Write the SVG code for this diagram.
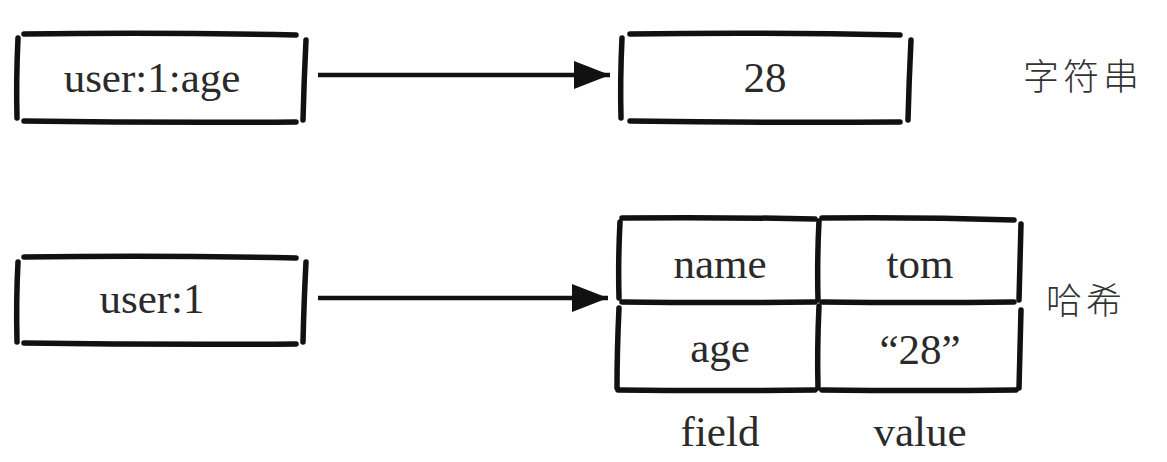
<svg xmlns="http://www.w3.org/2000/svg" width="1167" height="462" viewBox="0 0 1167 462">
<style>
.s{fill:none;stroke:#111;stroke-width:5.5;stroke-linecap:round;stroke-linejoin:round}
.c{stroke:#111;stroke-width:4.5;fill:none}
.t{font-family:"Liberation Serif","Times New Roman",serif;font-size:43px;fill:#2a2a2a;text-anchor:middle}
.z{font-family:"Noto Sans CJK SC","Noto Sans CJK JP",sans-serif;font-size:36px;font-weight:300;fill:#333;letter-spacing:4px}
</style>
<defs>
<marker id="arr" viewBox="0 0 36 28" refX="36" refY="14" markerWidth="36" markerHeight="28" markerUnits="userSpaceOnUse" orient="auto">
<path d="M0,0 L36,14 L0,28 Z" fill="#111"/>
</marker>
</defs>
<rect width="1167" height="462" fill="#fff"/>
<g id="connectors">
<line class="c" x1="318" y1="75" x2="610" y2="75" marker-end="url(#arr)"/>
<line class="c" x1="318" y1="298" x2="608" y2="298" marker-end="url(#arr)"/>
</g>
<g id="key-age">
<path class="s" d="M24,34 Q160,32 296,35"/>
<path class="s" d="M24,121 Q160,123 296,122"/>
<path class="s" d="M18,38 Q16,80 17,118"/>
<path class="s" d="M306,40 Q304,80 303,120"/>
<text class="t" x="152" y="92">user:1:age</text>
</g>
<g id="val-28">
<path class="s" d="M630,34 Q765,32 900,35"/>
<path class="s" d="M630,121 Q765,123 900,122"/>
<path class="s" d="M622,38 Q620,80 621,118"/>
<path class="s" d="M911,40 Q909,80 908,120"/>
<text class="t" x="765" y="92">28</text>
</g>
<g id="label-string"><text class="z" x="1023" y="90">字符串</text></g>
<g id="key-user1">
<path class="s" d="M24,257 Q160,255 296,258"/>
<path class="s" d="M24,343 Q160,345 296,344"/>
<path class="s" d="M18,262 Q16,300 17,342"/>
<path class="s" d="M306,262 Q304,300 303,342"/>
<text class="t" x="152" y="313">user:1</text>
</g>
<g id="hash">
<path class="s" d="M622,218 Q720,217 815,219"/>
<path class="s" d="M822,218 Q920,217 1014,220"/>
<path class="s" d="M622,302 Q720,303 815,302"/>
<path class="s" d="M822,302 Q920,303 1014,302"/>
<path class="s" d="M618,390 Q720,391 815,390"/>
<path class="s" d="M822,390 Q920,391 1016,390"/>
<path class="s" d="M620,222 Q618,260 619,298"/>
<path class="s" d="M619,308 Q617,350 617,388"/>
<path class="s" d="M819,221 Q817,260 818,300"/>
<path class="s" d="M819,306 Q817,350 818,388"/>
<path class="s" d="M1021,224 Q1020,260 1019,300"/>
<path class="s" d="M1021,310 Q1020,350 1019,388"/>
<text class="t" x="720" y="278">name</text>
<text class="t" x="920" y="278">tom</text>
<text class="t" x="720" y="362">age</text>
<text class="t" x="920" y="364">“28”</text>
<text class="t" x="720" y="446">field</text>
<text class="t" x="920" y="446">value</text>
</g>
<g id="label-hash"><text class="z" x="1046" y="314">哈希</text></g>
</svg>
